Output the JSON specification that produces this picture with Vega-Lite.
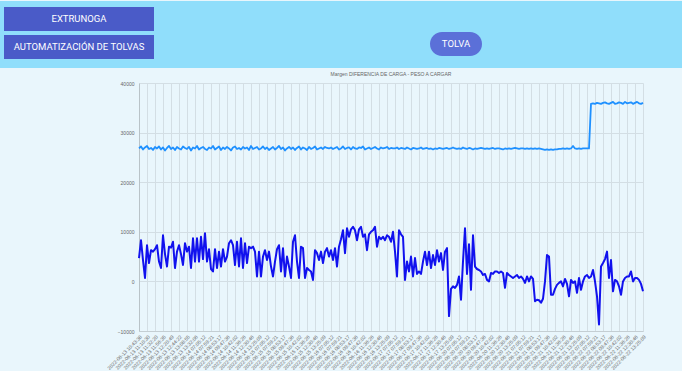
{
  "$schema": "https://vega.github.io/schema/vega-lite/v6.json",
  "padding": 0,
  "spacing": 3,
  "background": "#E9F6FC",
  "config": {"view": {"stroke": null}},
  "vconcat": [
    {
      "width": 504,
      "height": 67,
      "view": {"fill": null, "stroke": null},
      "data": {"values": [
        {"boton": "", "grupo": "franja", "fila": "f"},
        {"boton": "EXTRUNOGA", "grupo": "menu", "fila": "1"},
        {"boton": "AUTOMATIZACIÓN DE TOLVAS", "grupo": "menu", "fila": "2"},
        {"boton": "TOLVA", "grupo": "tolva", "fila": "t"}
      ]},
      "resolve": {"scale": {"x": "independent", "y": "independent"}},
      "layer": [
        {
          "transform": [{"filter": "datum.grupo === 'franja'"}],
          "encoding": {
            "x": {"field": "grupo", "type": "nominal", "scale": {"type": "point", "domain": ["franja"], "range": [202, 202]}, "axis": null},
            "y": {"field": "fila", "type": "nominal", "scale": {"type": "point", "domain": ["f"], "range": [33.5, 33.5]}, "axis": null}
          },
          "mark": {"type": "point", "filled": true, "shape": "M-1,-0.0983H1V0.0983H-1Z", "size": 465124, "color": "#90DEFB", "opacity": 1, "strokeWidth": 0}
        },
        {
          "transform": [{"filter": "datum.grupo === 'menu'"}],
          "encoding": {
            "x": {"field": "grupo", "type": "nominal", "scale": {"type": "point", "domain": ["menu"], "range": [-60, -60]}, "axis": null},
            "y": {"field": "fila", "type": "nominal", "scale": {"type": "point", "domain": ["1", "2"], "range": [18, 46], "padding": 0}, "axis": null}
          },
          "layer": [
            {"mark": {"type": "point", "filled": true, "shape": "M-1,-0.16H1V0.16H-1Z", "size": 22500, "color": "#4A5BC8", "opacity": 1, "strokeWidth": 0}},
            {"mark": {"type": "text", "color": "white", "font": "Roboto", "fontSize": 9.5}, "encoding": {"text": {"field": "boton"}}}
          ]
        },
        {
          "transform": [{"filter": "datum.grupo === 'tolva'"}],
          "encoding": {
            "x": {"field": "grupo", "type": "nominal", "scale": {"type": "point", "domain": ["tolva"], "range": [317, 317]}, "axis": null},
            "y": {"field": "fila", "type": "nominal", "scale": {"type": "point", "domain": ["t"], "range": [43, 43]}, "axis": null}
          },
          "layer": [
            {"mark": {"type": "point", "filled": true, "shape": "M-0.5385,-0.4615H0.5385C0.7934,-0.4615,1,-0.2549,1,0C1,0.2549,0.7934,0.4615,0.5385,0.4615H-0.5385C-0.7934,0.4615,-1,0.2549,-1,0C-1,-0.2549,-0.7934,-0.4615,-0.5385,-0.4615Z", "size": 2704, "color": "#5B70D8", "opacity": 1, "strokeWidth": 0}},
            {"mark": {"type": "text", "color": "white", "font": "Roboto", "fontSize": 9.5}, "encoding": {"text": {"field": "boton"}}}
          ]
        }
      ]
    },
    {
      "width": 504,
      "height": 248,
      "view": {"fill": null, "stroke": null},
      "title": {"text": "Margen DIFERENCIA DE CARGA - PESO A CARGAR", "fontSize": 5, "font": "Liberation Sans", "color": "#666666", "fontWeight": "normal", "offset": 4},
      "data": {"values": [
        {"t":"2022-06-13 10:43:38","d":4700,"p":26800},
        {"t":"2022-06-13 10:49:17","d":8300,"p":27200},
        {"t":"2022-06-13 10:55:37","d":4300,"p":26600},
        {"t":"2022-06-13 11:01:52","d":700,"p":27000},
        {"t":"2022-06-13 11:10:30","d":7300,"p":27300},
        {"t":"2022-06-13 11:15:06","d":3700,"p":26700},
        {"t":"2022-06-13 11:19:51","d":6300,"p":26900},
        {"t":"2022-06-13 11:25:44","d":6000,"p":26500},
        {"t":"2022-06-13 11:32:20","d":6500,"p":27100},
        {"t":"2022-06-13 11:38:09","d":7300,"p":26800},
        {"t":"2022-06-13 11:44:51","d":4000,"p":27200},
        {"t":"2022-06-13 11:50:27","d":2700,"p":26600},
        {"t":"2022-06-13 11:56:35","d":9300,"p":27000},
        {"t":"2022-06-13 12:02:18","d":5500,"p":26400},
        {"t":"2022-06-13 12:08:43","d":3000,"p":26900},
        {"t":"2022-06-13 12:14:05","d":7000,"p":27300},
        {"t":"2022-06-13 12:20:49","d":6800,"p":26700},
        {"t":"2022-06-13 12:26:31","d":8000,"p":27000},
        {"t":"2022-06-13 12:32:16","d":2700,"p":26500},
        {"t":"2022-06-13 12:38:57","d":6000,"p":27100},
        {"t":"2022-06-13 12:44:22","d":7300,"p":26800},
        {"t":"2022-06-13 12:50:08","d":5500,"p":26600},
        {"t":"2022-06-13 12:56:40","d":3300,"p":27200},
        {"t":"2022-06-13 13:02:13","d":7700,"p":26900},
        {"t":"2022-06-13 13:08:55","d":6000,"p":26700},
        {"t":"2022-06-13 13:14:37","d":7000,"p":27100},
        {"t":"2022-06-13 13:20:19","d":2700,"p":26400},
        {"t":"2022-06-13 13:26:48","d":8700,"p":27000},
        {"t":"2022-06-13 13:32:06","d":4000,"p":26800},
        {"t":"2022-06-13 13:38:44","d":8700,"p":27300},
        {"t":"2022-06-13 13:44:29","d":4000,"p":26600},
        {"t":"2022-06-13 13:50:11","d":9000,"p":26900},
        {"t":"2022-06-14 07:05:12","d":4500,"p":27100},
        {"t":"2022-06-14 07:18:47","d":9700,"p":26700},
        {"t":"2022-06-14 07:32:09","d":4000,"p":26500},
        {"t":"2022-06-14 07:45:38","d":6500,"p":27000},
        {"t":"2022-06-14 07:59:21","d":2500,"p":26800},
        {"t":"2022-06-14 08:12:55","d":2000,"p":27300},
        {"t":"2022-06-14 08:26:03","d":6500,"p":26600},
        {"t":"2022-06-14 08:39:44","d":2700,"p":26900},
        {"t":"2022-06-14 08:53:17","d":6000,"p":27200},
        {"t":"2022-06-14 09:06:52","d":3000,"p":26500},
        {"t":"2022-06-14 09:20:28","d":6500,"p":27000},
        {"t":"2022-06-14 09:33:59","d":4000,"p":26700},
        {"t":"2022-06-14 09:47:36","d":5000,"p":27100},
        {"t":"2022-06-14 10:01:14","d":7700,"p":26800},
        {"t":"2022-06-14 10:14:49","d":8300,"p":26400},
        {"t":"2022-06-14 10:28:25","d":7300,"p":27000},
        {"t":"2022-06-14 10:42:02","d":3300,"p":27200},
        {"t":"2022-06-14 10:55:37","d":8000,"p":26700},
        {"t":"2022-06-14 11:09:13","d":3000,"p":26900},
        {"t":"2022-06-14 11:22:48","d":8700,"p":26600},
        {"t":"2022-06-14 11:36:26","d":2700,"p":27100},
        {"t":"2022-06-14 11:49:59","d":7700,"p":26800},
        {"t":"2022-06-14 12:03:35","d":3700,"p":27000},
        {"t":"2022-06-14 12:17:10","d":7000,"p":26500},
        {"t":"2022-06-14 12:30:46","d":6700,"p":27300},
        {"t":"2022-06-14 12:44:21","d":7000,"p":26700},
        {"t":"2022-06-14 12:57:58","d":6000,"p":26900},
        {"t":"2022-06-14 13:11:33","d":1000,"p":27100},
        {"t":"2022-06-14 13:25:09","d":6000,"p":26600},
        {"t":"2022-06-14 13:38:44","d":1000,"p":26800},
        {"t":"2022-06-14 13:52:20","d":5000,"p":27200},
        {"t":"2022-06-14 14:05:57","d":6300,"p":26700},
        {"t":"2022-06-15 07:05:12","d":4300,"p":27000},
        {"t":"2022-06-15 07:18:47","d":6000,"p":26500},
        {"t":"2022-06-15 07:32:09","d":3000,"p":26800},
        {"t":"2022-06-15 07:45:38","d":1000,"p":27100},
        {"t":"2022-06-15 07:59:21","d":4000,"p":26600},
        {"t":"2022-06-15 08:12:55","d":6500,"p":26900},
        {"t":"2022-06-15 08:26:03","d":7300,"p":27300},
        {"t":"2022-06-15 08:39:44","d":2000,"p":26700},
        {"t":"2022-06-15 08:53:17","d":6700,"p":27000},
        {"t":"2022-06-15 09:06:52","d":1000,"p":26400},
        {"t":"2022-06-15 09:20:28","d":5000,"p":26800},
        {"t":"2022-06-15 09:33:59","d":3000,"p":27100},
        {"t":"2022-06-15 09:47:36","d":700,"p":26700},
        {"t":"2022-06-15 10:01:14","d":8000,"p":27000},
        {"t":"2022-06-15 10:14:49","d":9300,"p":26500},
        {"t":"2022-06-15 10:28:25","d":4000,"p":26900},
        {"t":"2022-06-15 10:42:02","d":700,"p":27200},
        {"t":"2022-06-15 10:55:37","d":7000,"p":26600},
        {"t":"2022-06-15 11:09:13","d":6700,"p":27000},
        {"t":"2022-06-15 11:22:48","d":700,"p":26800},
        {"t":"2022-06-15 11:36:26","d":2700,"p":26500},
        {"t":"2022-06-15 11:49:59","d":2300,"p":27100},
        {"t":"2022-06-15 12:03:35","d":2000,"p":26700},
        {"t":"2022-06-15 12:17:10","d":300,"p":26900},
        {"t":"2022-06-15 12:30:46","d":6300,"p":27200},
        {"t":"2022-06-15 12:44:21","d":5700,"p":26600},
        {"t":"2022-06-15 12:57:58","d":4300,"p":26800},
        {"t":"2022-06-15 13:11:33","d":6000,"p":27000},
        {"t":"2022-06-15 13:25:09","d":3700,"p":26700},
        {"t":"2022-06-15 13:38:44","d":6000,"p":27100},
        {"t":"2022-06-15 13:52:20","d":6700,"p":26900},
        {"t":"2022-06-15 14:05:57","d":5000,"p":26800},
        {"t":"2022-06-16 07:05:12","d":6300,"p":27000},
        {"t":"2022-06-16 07:18:47","d":4300,"p":26700},
        {"t":"2022-06-16 07:32:09","d":6700,"p":26900},
        {"t":"2022-06-16 07:45:38","d":3000,"p":27100},
        {"t":"2022-06-16 07:59:21","d":7000,"p":26600},
        {"t":"2022-06-16 08:12:55","d":8500,"p":26800},
        {"t":"2022-06-16 08:26:03","d":10300,"p":27200},
        {"t":"2022-06-16 08:39:44","d":5700,"p":26700},
        {"t":"2022-06-16 08:53:17","d":10700,"p":26900},
        {"t":"2022-06-16 09:06:52","d":9000,"p":27000},
        {"t":"2022-06-16 09:20:28","d":10500,"p":26600},
        {"t":"2022-06-16 09:33:59","d":11000,"p":27100},
        {"t":"2022-06-16 09:47:36","d":10300,"p":26800},
        {"t":"2022-06-16 10:01:14","d":8300,"p":26700},
        {"t":"2022-06-16 10:14:49","d":10500,"p":27000},
        {"t":"2022-06-16 10:28:25","d":11000,"p":26900},
        {"t":"2022-06-16 10:42:02","d":9000,"p":27200},
        {"t":"2022-06-16 10:55:37","d":9500,"p":26600},
        {"t":"2022-06-16 11:09:13","d":6300,"p":26800},
        {"t":"2022-06-16 11:22:48","d":9500,"p":27000},
        {"t":"2022-06-16 11:36:26","d":10000,"p":26700},
        {"t":"2022-06-16 11:49:59","d":10300,"p":26900},
        {"t":"2022-06-16 12:03:35","d":11000,"p":27100},
        {"t":"2022-06-16 12:17:10","d":7000,"p":26800},
        {"t":"2022-06-16 12:30:46","d":9000,"p":26600},
        {"t":"2022-06-16 12:44:21","d":8500,"p":27000},
        {"t":"2022-06-16 12:57:58","d":9000,"p":26800},
        {"t":"2022-06-16 13:11:33","d":8300,"p":26900},
        {"t":"2022-06-16 13:25:09","d":9300,"p":27100},
        {"t":"2022-06-16 13:38:44","d":9000,"p":26700},
        {"t":"2022-06-16 13:52:20","d":8000,"p":26900},
        {"t":"2022-06-16 14:05:57","d":10000,"p":26800},
        {"t":"2022-06-17 07:05:12","d":6000,"p":26800},
        {"t":"2022-06-17 07:18:47","d":1000,"p":27000},
        {"t":"2022-06-17 07:32:09","d":10300,"p":26700},
        {"t":"2022-06-17 07:45:38","d":9500,"p":26900},
        {"t":"2022-06-17 07:59:21","d":9000,"p":26800},
        {"t":"2022-06-17 08:12:55","d":300,"p":26700},
        {"t":"2022-06-17 08:26:03","d":4000,"p":27000},
        {"t":"2022-06-17 08:39:44","d":2000,"p":26800},
        {"t":"2022-06-17 08:53:17","d":5000,"p":26600},
        {"t":"2022-06-17 09:06:52","d":1000,"p":26900},
        {"t":"2022-06-17 09:20:28","d":4700,"p":26800},
        {"t":"2022-06-17 09:33:59","d":1500,"p":26700},
        {"t":"2022-06-17 09:47:36","d":2000,"p":26800},
        {"t":"2022-06-17 10:01:14","d":1500,"p":27000},
        {"t":"2022-06-17 10:14:49","d":4000,"p":26700},
        {"t":"2022-06-17 10:28:25","d":6000,"p":26800},
        {"t":"2022-06-17 10:42:02","d":3300,"p":26900},
        {"t":"2022-06-17 10:55:37","d":6000,"p":26700},
        {"t":"2022-06-17 11:09:13","d":2700,"p":26800},
        {"t":"2022-06-17 11:22:48","d":5300,"p":26600},
        {"t":"2022-06-17 11:36:26","d":3300,"p":26800},
        {"t":"2022-06-17 11:49:59","d":6300,"p":26700},
        {"t":"2022-06-17 12:03:35","d":4000,"p":26900},
        {"t":"2022-06-17 12:17:10","d":5700,"p":26800},
        {"t":"2022-06-17 12:30:46","d":2300,"p":26700},
        {"t":"2022-06-17 12:44:21","d":6000,"p":26800},
        {"t":"2022-06-17 12:57:58","d":6700,"p":26900},
        {"t":"2022-06-17 13:11:33","d":-7000,"p":26700},
        {"t":"2022-06-17 13:25:09","d":-1500,"p":26800},
        {"t":"2022-06-17 13:38:44","d":-1000,"p":27000},
        {"t":"2022-06-17 13:52:20","d":-1300,"p":26800},
        {"t":"2022-06-17 14:05:57","d":-700,"p":26700},
        {"t":"2022-06-20 07:05:12","d":1000,"p":26800},
        {"t":"2022-06-20 07:18:47","d":-3700,"p":26700},
        {"t":"2022-06-20 07:32:09","d":4000,"p":27000},
        {"t":"2022-06-20 07:45:38","d":10700,"p":26800},
        {"t":"2022-06-20 07:59:21","d":1500,"p":26700},
        {"t":"2022-06-20 08:12:55","d":7500,"p":26900},
        {"t":"2022-06-20 08:26:03","d":-1700,"p":26800},
        {"t":"2022-06-20 08:39:44","d":9300,"p":26600},
        {"t":"2022-06-20 08:53:17","d":3000,"p":26800},
        {"t":"2022-06-20 09:06:52","d":2500,"p":26700},
        {"t":"2022-06-20 09:20:28","d":2300,"p":26800},
        {"t":"2022-06-20 09:33:59","d":2000,"p":26900},
        {"t":"2022-06-20 09:47:36","d":1300,"p":26800},
        {"t":"2022-06-20 10:01:14","d":1500,"p":26700},
        {"t":"2022-06-20 10:14:49","d":300,"p":26800},
        {"t":"2022-06-20 10:28:25","d":0,"p":26700},
        {"t":"2022-06-20 10:42:02","d":1700,"p":26800},
        {"t":"2022-06-20 10:55:37","d":1500,"p":26900},
        {"t":"2022-06-20 11:09:13","d":2000,"p":26700},
        {"t":"2022-06-20 11:22:48","d":2000,"p":26800},
        {"t":"2022-06-20 11:36:26","d":1700,"p":26800},
        {"t":"2022-06-20 11:49:59","d":2000,"p":26700},
        {"t":"2022-06-20 12:03:35","d":1700,"p":26600},
        {"t":"2022-06-20 12:17:10","d":-1300,"p":26800},
        {"t":"2022-06-20 12:30:46","d":1700,"p":26700},
        {"t":"2022-06-20 12:44:21","d":1300,"p":26800},
        {"t":"2022-06-20 12:57:58","d":1000,"p":26700},
        {"t":"2022-06-20 13:11:33","d":700,"p":26800},
        {"t":"2022-06-20 13:25:09","d":1000,"p":26900},
        {"t":"2022-06-20 13:38:44","d":1300,"p":26800},
        {"t":"2022-06-20 13:52:20","d":700,"p":26700},
        {"t":"2022-06-20 14:05:57","d":1000,"p":26800},
        {"t":"2022-06-21 07:05:12","d":500,"p":26800},
        {"t":"2022-06-21 07:18:47","d":-300,"p":26700},
        {"t":"2022-06-21 07:32:09","d":1000,"p":26800},
        {"t":"2022-06-21 07:45:38","d":0,"p":26700},
        {"t":"2022-06-21 07:59:21","d":1000,"p":26800},
        {"t":"2022-06-21 08:12:55","d":500,"p":26700},
        {"t":"2022-06-21 08:26:03","d":-4000,"p":26800},
        {"t":"2022-06-21 08:39:44","d":-3700,"p":26700},
        {"t":"2022-06-21 08:53:17","d":-3800,"p":26800},
        {"t":"2022-06-21 09:06:52","d":-4300,"p":26700},
        {"t":"2022-06-21 09:20:28","d":-3500,"p":26600},
        {"t":"2022-06-21 09:33:59","d":0,"p":26500},
        {"t":"2022-06-21 09:47:36","d":5300,"p":26600},
        {"t":"2022-06-21 10:01:14","d":5000,"p":26500},
        {"t":"2022-06-21 10:14:49","d":-2700,"p":26600},
        {"t":"2022-06-21 10:28:25","d":-2700,"p":26500},
        {"t":"2022-06-21 10:42:02","d":-1500,"p":26600},
        {"t":"2022-06-21 10:55:37","d":-700,"p":26600},
        {"t":"2022-06-21 11:09:13","d":-300,"p":26700},
        {"t":"2022-06-21 11:22:48","d":0,"p":26700},
        {"t":"2022-06-21 11:36:26","d":-1000,"p":26800},
        {"t":"2022-06-21 11:49:59","d":500,"p":26700},
        {"t":"2022-06-21 12:03:35","d":-500,"p":26800},
        {"t":"2022-06-21 12:17:10","d":-3000,"p":26700},
        {"t":"2022-06-21 12:30:46","d":300,"p":26800},
        {"t":"2022-06-21 12:44:21","d":-300,"p":27300},
        {"t":"2022-06-21 12:57:58","d":0,"p":26800},
        {"t":"2022-06-21 13:11:33","d":-2300,"p":26700},
        {"t":"2022-06-21 13:25:09","d":700,"p":26800},
        {"t":"2022-06-21 13:38:44","d":-1700,"p":26700},
        {"t":"2022-06-21 13:52:20","d":0,"p":26800},
        {"t":"2022-06-21 14:05:57","d":1000,"p":26800},
        {"t":"2022-06-22 07:05:12","d":1300,"p":26800},
        {"t":"2022-06-22 07:18:47","d":700,"p":26800},
        {"t":"2022-06-22 07:32:09","d":1000,"p":35800},
        {"t":"2022-06-22 07:45:38","d":2300,"p":35900},
        {"t":"2022-06-22 07:59:21","d":0,"p":35800},
        {"t":"2022-06-22 08:12:55","d":-3000,"p":36000},
        {"t":"2022-06-22 08:26:03","d":-8700,"p":35900},
        {"t":"2022-06-22 08:39:44","d":3000,"p":35800},
        {"t":"2022-06-22 08:53:17","d":3700,"p":36000},
        {"t":"2022-06-22 09:06:52","d":4500,"p":36100},
        {"t":"2022-06-22 09:20:28","d":6000,"p":35900},
        {"t":"2022-06-22 09:33:59","d":700,"p":35800},
        {"t":"2022-06-22 09:47:36","d":4300,"p":36000},
        {"t":"2022-06-22 10:01:14","d":-2000,"p":36200},
        {"t":"2022-06-22 10:14:49","d":300,"p":35800},
        {"t":"2022-06-22 10:28:25","d":0,"p":35900},
        {"t":"2022-06-22 10:42:02","d":-1000,"p":36100},
        {"t":"2022-06-22 10:55:37","d":-2700,"p":36000},
        {"t":"2022-06-22 11:09:13","d":0,"p":35800},
        {"t":"2022-06-22 11:22:48","d":700,"p":36200},
        {"t":"2022-06-22 11:36:26","d":1000,"p":35900},
        {"t":"2022-06-22 11:49:59","d":1000,"p":36000},
        {"t":"2022-06-22 12:03:35","d":2000,"p":36100},
        {"t":"2022-06-22 12:17:10","d":0,"p":35800},
        {"t":"2022-06-22 12:30:46","d":700,"p":36000},
        {"t":"2022-06-22 12:44:21","d":700,"p":36200},
        {"t":"2022-06-22 12:57:58","d":300,"p":35900},
        {"t":"2022-06-22 13:11:33","d":-500,"p":35800},
        {"t":"2022-06-22 13:25:09","d":-2000,"p":36000}
      ]},
      "encoding": {
        "x": {
          "field": "t", "type": "ordinal", "sort": null,
          "scale": {"type": "point", "padding": 0},
          "axis": {
            "title": null,
            "values": [
              "2022-06-13 10:43:38","2022-06-13 11:10:30","2022-06-13 11:32:20","2022-06-13 11:56:35","2022-06-13 12:20:49","2022-06-13 12:44:22","2022-06-13 13:08:55","2022-06-13 13:32:06",
              "2022-06-14 07:05:12","2022-06-14 07:59:21","2022-06-14 08:53:17","2022-06-14 09:47:36","2022-06-14 10:42:02","2022-06-14 11:36:26","2022-06-14 12:30:46","2022-06-14 13:25:09",
              "2022-06-15 07:05:12","2022-06-15 07:59:21","2022-06-15 08:53:17","2022-06-15 09:47:36","2022-06-15 10:42:02","2022-06-15 11:36:26","2022-06-15 12:30:46","2022-06-15 13:25:09",
              "2022-06-16 07:05:12","2022-06-16 07:59:21","2022-06-16 08:53:17","2022-06-16 09:47:36","2022-06-16 10:42:02","2022-06-16 11:36:26","2022-06-16 12:30:46","2022-06-16 13:25:09",
              "2022-06-17 07:05:12","2022-06-17 07:59:21","2022-06-17 08:53:17","2022-06-17 09:47:36","2022-06-17 10:42:02","2022-06-17 11:36:26","2022-06-17 12:30:46","2022-06-17 13:25:09",
              "2022-06-20 07:05:12","2022-06-20 07:59:21","2022-06-20 08:53:17","2022-06-20 09:47:36","2022-06-20 10:42:02","2022-06-20 11:36:26","2022-06-20 12:30:46","2022-06-20 13:25:09",
              "2022-06-21 07:05:12","2022-06-21 07:59:21","2022-06-21 08:53:17","2022-06-21 09:47:36","2022-06-21 10:42:02","2022-06-21 11:36:26","2022-06-21 12:30:46","2022-06-21 13:25:09",
              "2022-06-22 07:05:12","2022-06-22 07:59:21","2022-06-22 08:53:17","2022-06-22 09:47:36","2022-06-22 10:42:02","2022-06-22 11:36:26","2022-06-22 12:30:46","2022-06-22 13:25:09"
            ],
            "labelAngle": -45,
            "labelFontSize": 5,
            "labelFont": "Liberation Sans",
            "labelColor": "#666666",
            "labelOverlap": false,
            "labelPadding": 3,
            "ticks": false,
            "grid": true,
            "gridColor": "#d3dee4",
            "gridWidth": 1,
            "domainColor": "#c4ced3"
          }
        }
      },
      "layer": [
        {
          "mark": {"type": "line", "color": "#1E90FF", "strokeWidth": 1.8, "strokeJoin": "round"},
          "encoding": {
            "y": {
              "field": "p", "type": "quantitative",
              "scale": {"domain": [-10000, 40000], "nice": false, "zero": false},
              "axis": {
                "title": null,
                "values": [-10000, -5000, 0, 5000, 10000, 15000, 20000, 25000, 30000, 35000, 40000],
                "format": "d",
                "labelFontSize": 5,
                "labelFont": "Liberation Sans",
                "labelColor": "#666666",
                "labelPadding": 5,
                "ticks": false,
                "grid": true,
                "gridColor": "#d3dee4",
                "domainColor": "#b9c3c8",
                "minExtent": 139
              }
            }
          }
        },
        {
          "mark": {"type": "line", "color": "#1111EE", "strokeWidth": 2, "strokeJoin": "round"},
          "encoding": {
            "y": {"field": "d", "type": "quantitative"}
          }
        }
      ]
    }
  ]
}
